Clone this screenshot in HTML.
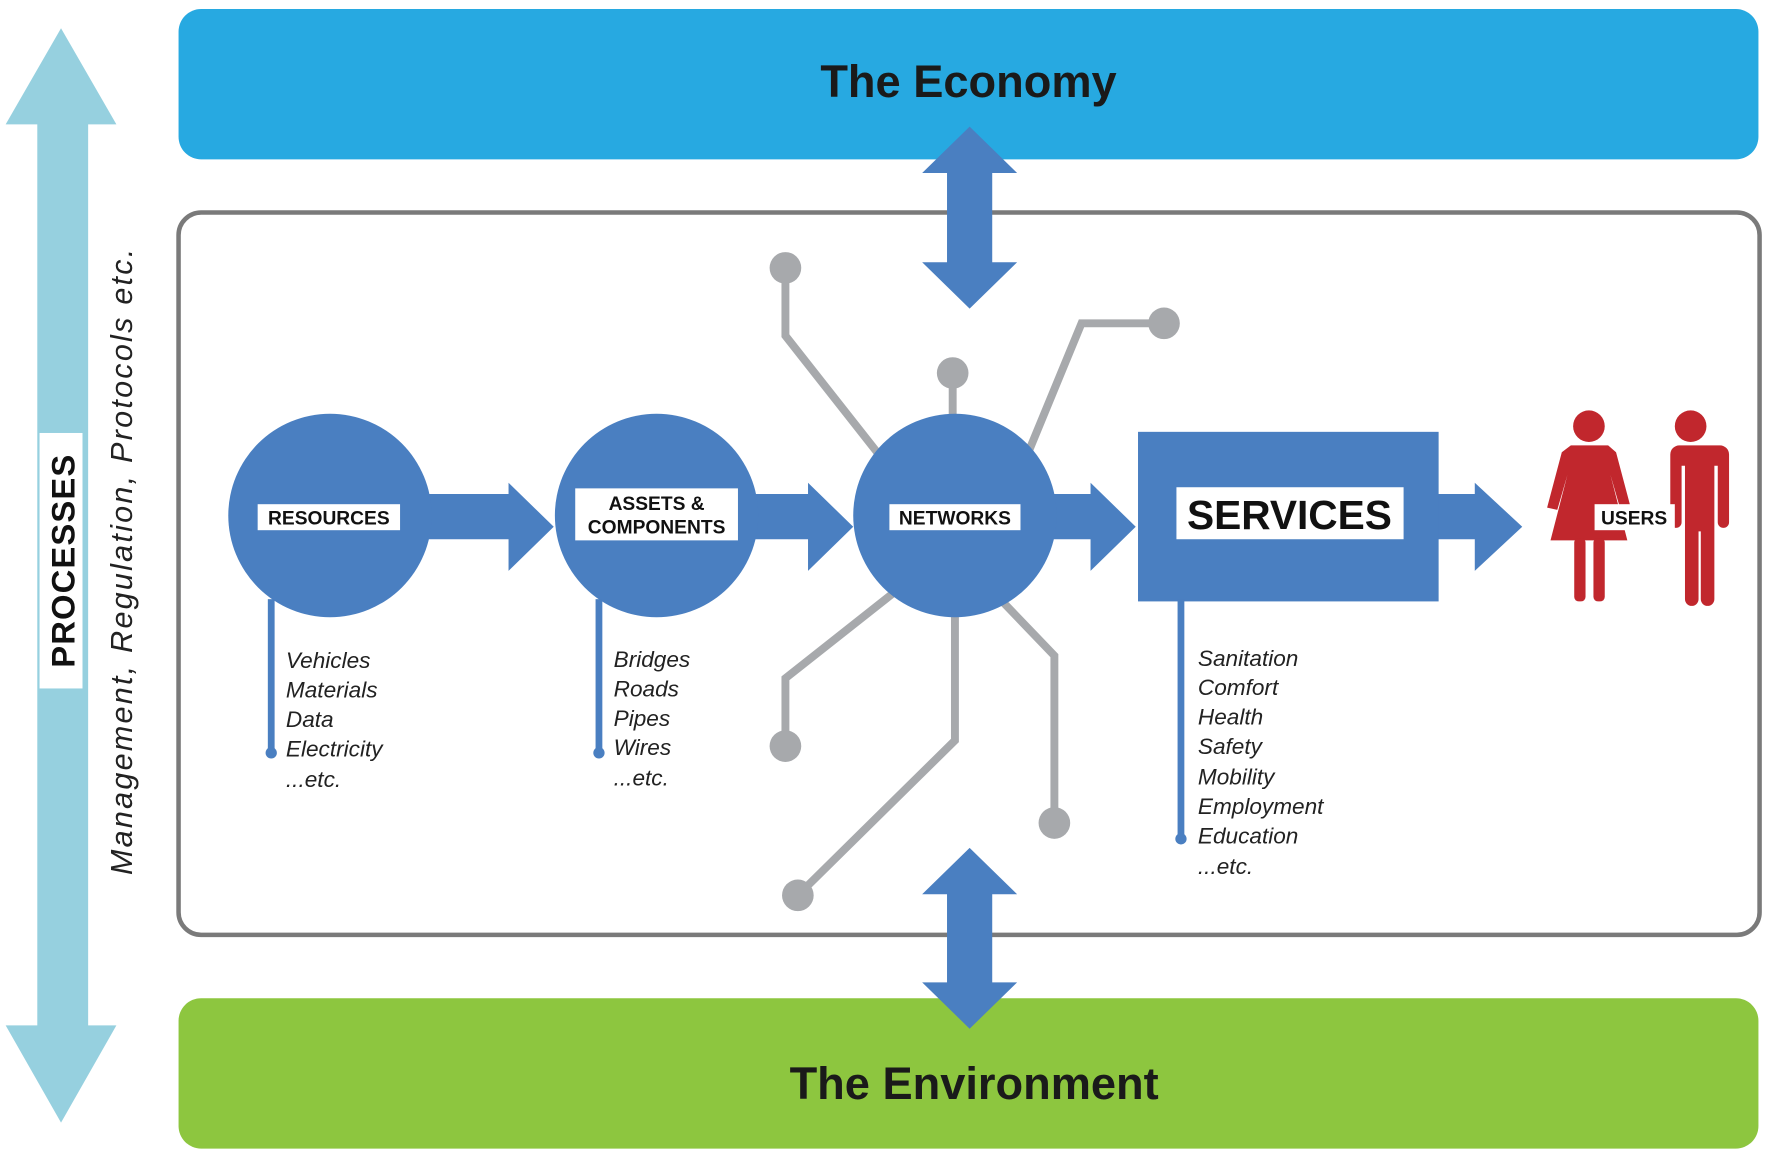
<!DOCTYPE html>
<html><head><meta charset="utf-8"><style>html,body{margin:0;padding:0;background:#fff}svg{display:block}</style></head><body>
<svg width="1772" height="1161" viewBox="0 0 1568 1027" preserveAspectRatio="none" xmlns="http://www.w3.org/2000/svg" font-family="Liberation Sans, sans-serif">
<rect width="1568" height="1027" fill="#fff"/>
<polygon points="54,25 103,110 78,110 78,907 103,907 54,993 5,907 33,907 33,110 5,110" fill="#96d0df"/>
<rect x="35" y="383" width="38" height="226" fill="#fff"/>
<text transform="translate(66,496) rotate(-90)" text-anchor="middle" font-size="29" font-weight="bold" fill="#111" letter-spacing="1">PROCESSES</text>
<text transform="translate(117,496) rotate(-90)" text-anchor="middle" font-size="27" font-style="italic" fill="#222" letter-spacing="2">Management, Regulation, Protocols etc.</text>
<rect x="158" y="8" width="1398" height="133" rx="20" fill="#27a9e1"/>
<text x="857" y="86" text-anchor="middle" font-size="40" font-weight="bold" fill="#1a1a1a">The Economy</text>
<rect x="158" y="883" width="1398" height="133" rx="20" fill="#8dc63f"/>
<text x="862" y="972" text-anchor="middle" font-size="40" font-weight="bold" fill="#1a1a1a">The Environment</text>
<rect x="158" y="188" width="1399" height="639" rx="20" fill="#fff" stroke="#7a7a7a" stroke-width="4"/>
<g stroke="#a7a9ac" stroke-width="7" fill="none">
<polyline points="695,237 695,297 780,405"/>
<polyline points="843,330 843,372"/>
<polyline points="1030,286 957,286 910,400"/>
<polyline points="790,525 695,600 695,660"/>
<polyline points="845,540 845,655 706,792"/>
<polyline points="885,530 933,580 933,728"/>
</g>
<g fill="#a7a9ac">
<circle cx="695" cy="237" r="14"/><circle cx="843" cy="330" r="14"/><circle cx="1030" cy="286" r="14"/>
<circle cx="695" cy="660" r="14"/><circle cx="706" cy="792" r="14"/><circle cx="933" cy="728" r="14"/>
</g>
<g fill="#4a7fc1">
<polygon points="858,112 900,153 878,153 878,232 900,232 858,273 816,232 838,232 838,153 816,153"/>
<polygon points="858,750 900,791 878,791 878,869 900,869 858,910 816,869 838,869 838,791 816,791"/>
<polygon points="370,437 450,437 450,427 490,466 450,505 450,477 370,477"/>
<polygon points="660,437 715,437 715,427 755,466 715,505 715,477 660,477"/>
<polygon points="925,437 965,437 965,427 1005,466 965,505 965,477 925,477"/>
<polygon points="1265,437 1305,437 1305,427 1347,466 1305,505 1305,477 1265,477"/>
<circle cx="292" cy="456" r="90"/>
<circle cx="581" cy="456" r="90"/>
<circle cx="845" cy="456" r="90"/>
<rect x="1007" y="382" width="266" height="150"/>
<rect x="237" y="530" width="6" height="136"/><circle cx="240" cy="666" r="5"/>
<rect x="527" y="530" width="6" height="136"/><circle cx="530" cy="666" r="5"/>
<rect x="1042" y="530" width="6" height="212"/><circle cx="1045" cy="742" r="5"/>
</g>
<rect x="228" y="446" width="126" height="23" fill="#fff"/>
<text x="291" y="464" text-anchor="middle" font-size="17" font-weight="bold" fill="#111">RESOURCES</text>
<rect x="509" y="432" width="144" height="46" fill="#fff"/>
<text x="581" y="451" text-anchor="middle" font-size="17" font-weight="bold" fill="#111">ASSETS &amp;</text>
<text x="581" y="472" text-anchor="middle" font-size="17" font-weight="bold" fill="#111">COMPONENTS</text>
<rect x="787" y="446" width="116" height="23" fill="#fff"/>
<text x="845" y="464" text-anchor="middle" font-size="17" font-weight="bold" fill="#111">NETWORKS</text>
<rect x="1041" y="431" width="201" height="46" fill="#fff"/>
<text x="1141" y="468" text-anchor="middle" font-size="36" font-weight="bold" fill="#111">SERVICES</text>
<g fill="#c1272d">
<circle cx="1406" cy="377" r="14"/>
<polygon points="1390,394 1423,394 1430,400 1443,449 1434,451 1425,420 1440,478 1372,478 1387,420 1378,451 1369,449 1382,400"/>
<rect x="1393" y="476" width="10" height="56" rx="4"/><rect x="1410" y="476" width="10" height="56" rx="4"/>
<circle cx="1496" cy="377" r="14"/>
<path d="M1470,394 h52 a8,8 0 0 1 8,8 v60 a5,5 0 0 1 -10,0 v-50 h-3 v118 a6,6 0 0 1 -12,0 v-60 h-2 v60 a6,6 0 0 1 -12,0 v-118 h-3 v50 a5,5 0 0 1 -10,0 v-60 a8,8 0 0 1 8,-8z"/>
</g>
<rect x="1411" y="446" width="71" height="23" fill="#fff"/>
<text x="1446" y="464" text-anchor="middle" font-size="17" font-weight="bold" fill="#111">USERS</text>
<g font-size="20" font-style="italic" fill="#222">
<text x="253" y="591">Vehicles</text><text x="253" y="617">Materials</text><text x="253" y="643">Data</text><text x="253" y="669">Electricity</text><text x="253" y="696">...etc.</text>
<text x="543" y="590">Bridges</text><text x="543" y="616">Roads</text><text x="543" y="642">Pipes</text><text x="543" y="668">Wires</text><text x="543" y="695">...etc.</text>
<text x="1060" y="589">Sanitation</text><text x="1060" y="615">Comfort</text><text x="1060" y="641">Health</text><text x="1060" y="667">Safety</text><text x="1060" y="694">Mobility</text><text x="1060" y="720">Employment</text><text x="1060" y="746">Education</text><text x="1060" y="773">...etc.</text>
</g>
</svg>
</body></html>
